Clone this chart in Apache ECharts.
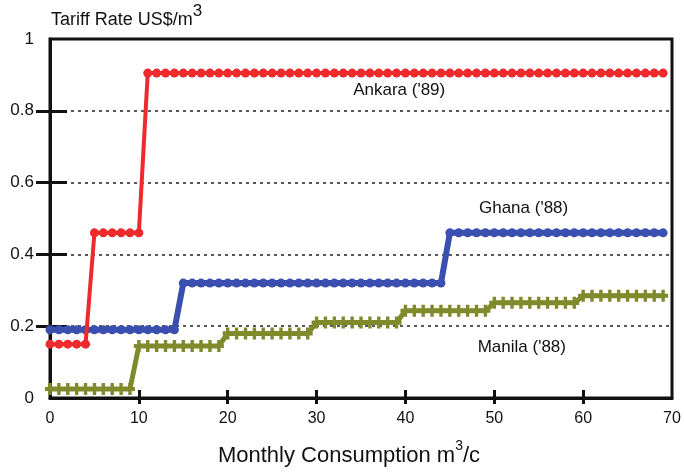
<!DOCTYPE html>
<html>
<head>
<meta charset="utf-8">
<script src="https://cdn.jsdelivr.net/npm/echarts@6/dist/echarts.min.js"></script>
<style>html,body{margin:0;padding:0;background:#fff}#c{width:684px;height:472px}</style>
</head>
<body>
<div id="c"></div>
<script>
// Monthly consumption (m3/c) sample points
const consumption = [
  0,1,2,3,4,5,6,7,8,9,
  10,11,12,13,14,15,16,17,18,19,
  20,21,22,23,24,25,26,27,28,29,
  30,31,32,33,34,35,36,37,38,39,
  40,41,42,43,44,45,46,47,48,49,
  50,51,52,53,54,55,56,57,58,59,
  60,61,62,63,64,65,66,67,68,69
];
// Tariff rate US$/m3
const ankara = [
  0.15,0.15,0.15,0.15,0.15,0.46,0.46,0.46,0.46,0.46,
  0.46,0.905,0.905,0.905,0.905,0.905,0.905,0.905,0.905,0.905,
  0.905,0.905,0.905,0.905,0.905,0.905,0.905,0.905,0.905,0.905,
  0.905,0.905,0.905,0.905,0.905,0.905,0.905,0.905,0.905,0.905,
  0.905,0.905,0.905,0.905,0.905,0.905,0.905,0.905,0.905,0.905,
  0.905,0.905,0.905,0.905,0.905,0.905,0.905,0.905,0.905,0.905,
  0.905,0.905,0.905,0.905,0.905,0.905,0.905,0.905,0.905,0.905
];
const ghana = [
  0.19,0.19,0.19,0.19,0.19,0.19,0.19,0.19,0.19,0.19,
  0.19,0.19,0.19,0.19,0.19,0.32,0.32,0.32,0.32,0.32,
  0.32,0.32,0.32,0.32,0.32,0.32,0.32,0.32,0.32,0.32,
  0.32,0.32,0.32,0.32,0.32,0.32,0.32,0.32,0.32,0.32,
  0.32,0.32,0.32,0.32,0.32,0.46,0.46,0.46,0.46,0.46,
  0.46,0.46,0.46,0.46,0.46,0.46,0.46,0.46,0.46,0.46,
  0.46,0.46,0.46,0.46,0.46,0.46,0.46,0.46,0.46,0.46
];
const manila = [
  0.025,0.025,0.025,0.025,0.025,0.025,0.025,0.025,0.025,0.025,
  0.145,0.145,0.145,0.145,0.145,0.145,0.145,0.145,0.145,0.145,
  0.18,0.18,0.18,0.18,0.18,0.18,0.18,0.18,0.18,0.18,
  0.21,0.21,0.21,0.21,0.21,0.21,0.21,0.21,0.21,0.21,
  0.243,0.243,0.243,0.243,0.243,0.243,0.243,0.243,0.243,0.243,
  0.265,0.265,0.265,0.265,0.265,0.265,0.265,0.265,0.265,0.265,
  0.285,0.285,0.285,0.285,0.285,0.285,0.285,0.285,0.285,0.285
];
const seriesNames = ["Ankara ('89)", "Ghana ('88)", "Manila ('88)"];
const xTickValues = [10, 20, 30, 40, 50, 60];
const yTickValues = [0.2, 0.4, 0.6, 0.8];

const FONT = '"Liberation Sans", Arial, sans-serif';
const INK = '#111';
const RED = '#ee2a2c';
const BLUE = '#3a4fb0';
const OLIVE = '#7f8a2c';
const PLUS = 'path://M3.3,0H6.7V3.3H10V6.7H6.7V10H3.3V6.7H0V3.3H3.3Z';

function pairs(vals) { return consumption.map((x, i) => [x, vals[i]]); }
function nameLabel(text) {
  return { show: true, position: 'inside', formatter: text, color: INK, fontFamily: FONT, fontSize: 17, fontWeight: 'normal' };
}

const chart = echarts.init(document.getElementById('c'), null, { renderer: 'canvas' });
chart.setOption({
  animation: false,
  backgroundColor: '#fff',
  title: {
    left: 51, top: 3, padding: 0,
    text: '{a|Tariff Rate US$/m}{s|3}',
    textStyle: {
      fontWeight: 'normal',
      rich: {
        a: { fontFamily: FONT, fontSize: 18, fontWeight: 'normal', color: INK, lineHeight: 26, verticalAlign: 'bottom' },
        s: { fontFamily: FONT, fontSize: 17, fontWeight: 'normal', color: INK, lineHeight: 20, verticalAlign: 'top' }
      }
    }
  },
  grid: { left: 50, right: 12, top: 39, bottom: 73, show: true, borderColor: INK, borderWidth: 3, backgroundColor: 'transparent' },
  xAxis: [
    {
      type: 'value', min: 0, max: 70, interval: 10, position: 'bottom',
      axisLine: { show: true, onZero: false, lineStyle: { color: INK, width: 3 } },
      axisTick: { show: true, length: 6, customValues: xTickValues, lineStyle: { color: INK, width: 3 } },
      axisLabel: { color: INK, fontFamily: FONT, fontSize: 16, margin: 13 },
      splitLine: { show: false },
      name: '{a|Monthly Consumption m}{s|3}{a|/c}',
      nameLocation: 'middle', nameGap: 41,
      nameTextStyle: {
        padding: [0, 24, 0, 0],
        rich: {
          a: { fontFamily: FONT, fontSize: 22, color: INK, lineHeight: 28, verticalAlign: 'bottom' },
          s: { fontFamily: FONT, fontSize: 14, color: INK, lineHeight: 17, verticalAlign: 'top' }
        }
      }
    },
    {
      type: 'value', min: 0, max: 70, interval: 10, position: 'bottom',
      axisLine: { show: false },
      axisTick: { show: true, inside: true, length: 8, customValues: xTickValues, lineStyle: { color: INK, width: 3 } },
      axisLabel: { show: false },
      splitLine: { show: false }
    }
  ],
  yAxis: [
    {
      type: 'value', min: 0, max: 1, interval: 0.2, position: 'left',
      axisLine: { show: true, onZero: false, lineStyle: { color: INK, width: 3 } },
      axisTick: { show: true, length: 14, customValues: yTickValues, lineStyle: { color: INK, width: 3 } },
      axisLabel: { color: INK, fontFamily: FONT, fontSize: 17, margin: 16 },
      splitLine: { show: true, lineStyle: { color: '#222', type: [3, 4], width: 1.5 } }
    },
    {
      type: 'value', min: 0, max: 1, interval: 0.2, position: 'left',
      axisLine: { show: false },
      axisTick: { show: true, inside: true, length: 17, customValues: yTickValues, lineStyle: { color: INK, width: 3 } },
      axisLabel: { show: false },
      splitLine: { show: false }
    }
  ],
  series: [
    {
      name: seriesNames[2], type: 'line', xAxisIndex: 0, yAxisIndex: 0,
      data: pairs(manila), symbol: PLUS, symbolSize: [10, 12], showAllSymbol: true,
      lineStyle: { color: OLIVE, width: 5 }, itemStyle: { color: OLIVE }, z: 3,
      markPoint: { symbol: 'circle', symbolSize: 0, data: [{ coord: [53.1, 0.141], label: nameLabel(seriesNames[2]) }] }
    },
    {
      name: seriesNames[1], type: 'line', xAxisIndex: 0, yAxisIndex: 0,
      data: pairs(ghana), symbol: 'circle', symbolSize: 9, showAllSymbol: true,
      lineStyle: { color: BLUE, width: 6 }, itemStyle: { color: BLUE }, z: 4,
      markPoint: { symbol: 'circle', symbolSize: 0, data: [{ coord: [53.3, 0.528], label: nameLabel(seriesNames[1]) }] }
    },
    {
      name: seriesNames[0], type: 'line', xAxisIndex: 0, yAxisIndex: 0,
      data: pairs(ankara), symbol: 'circle', symbolSize: 9, showAllSymbol: true,
      lineStyle: { color: RED, width: 4 }, itemStyle: { color: RED }, z: 5,
      markPoint: { symbol: 'circle', symbolSize: 0, data: [{ coord: [39.3, 0.856], label: nameLabel(seriesNames[0]) }] }
    }
  ]
});
</script>
</body>
</html>
